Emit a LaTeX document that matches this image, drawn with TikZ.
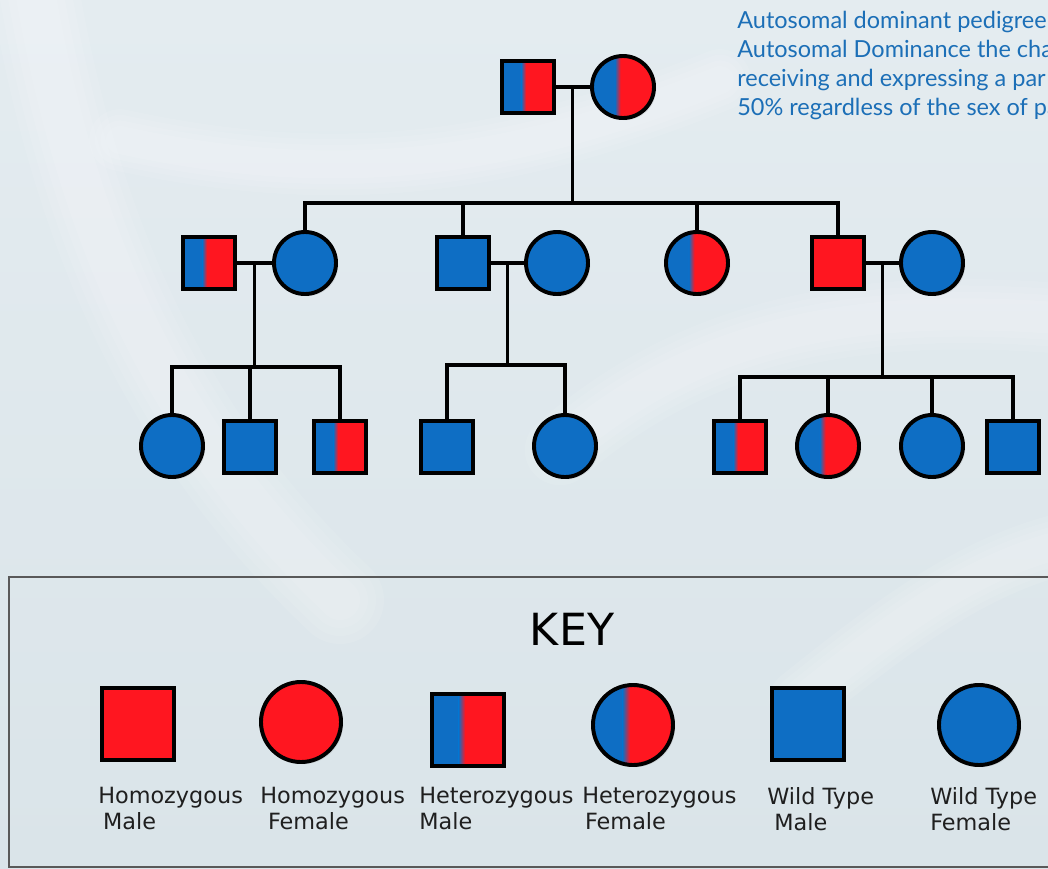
\documentclass[tikz,border=0pt]{standalone}
\usepackage{fontspec}
\setmainfont{DejaVu Sans}
\newfontfamily\notefont{Lato}
\usetikzlibrary{calc,shadows}

\definecolor{wtblue}{RGB}{14,110,196}
\definecolor{homred}{RGB}{255,22,32}
\definecolor{bgtop}{RGB}{228,236,240}
\definecolor{bgbot}{RGB}{218,228,233}
\definecolor{notecol}{RGB}{28,111,183}

\tikzset{
  person/.style={draw=black, line width=2.8pt, inner sep=0pt,
    drop shadow={shadow xshift=1.5pt, shadow yshift=-1.5pt, opacity=.2}},
  male/.style={person, rectangle, minimum size=1.28cm},
  female/.style={person, circle, minimum size=1.55cm},
  keymale/.style={male, minimum size=1.8cm},
  keyfemale/.style={female, minimum size=2cm},
  wt/.style={fill=wtblue},
  hom/.style={fill=homred},
  het/.style={path picture={
    \fill[wtblue] (path picture bounding box.south west) rectangle (path picture bounding box.north east);
    \fill[homred] ($(path picture bounding box.south west)!.46!(path picture bounding box.south east)$)
      rectangle (path picture bounding box.north east);
    \shade[left color=wtblue, right color=homred]
      ($(path picture bounding box.south west)!.37!(path picture bounding box.south east)$)
      rectangle ($(path picture bounding box.north west)!.46!(path picture bounding box.north east)$);
  }},
  kin/.style={draw=black, line width=2.2pt},
  strand/.style={white, opacity=.09, line cap=round},
  keylabel/.style={anchor=north west, inner sep=0pt, align=left,
    font=\fontsize{15.9}{18.5}\selectfont, text=black!88},
}

\begin{document}
\begin{tikzpicture}[x=0.025cm, y=-0.025cm]
  \useasboundingbox (0,0) rectangle (1048,869);
  \clip (0,0) rectangle (1048,869);

  %background, soft helix strands
  \shade[top color=bgtop, bottom color=bgbot] (0,0) rectangle (1048,869);
  \foreach \w in {2.2,1.8,1.4,1.0}{
    \draw[strand, line width=\w cm] (30,-40) .. controls (70,220) and (160,430) .. (340,600);
    \draw[strand, line width=.7*\w cm] (120,140) .. controls (350,190) and (520,160) .. (720,80);
    \draw[strand, line width=.8*\w cm] (560,450) .. controls (700,330) and (860,300) .. (1080,320);
    \draw[strand, line width=.7*\w cm] (800,700) .. controls (900,620) and (980,560) .. (1080,540);
  }

  %note
  \node[anchor=north west, inner sep=0pt, align=left, text=notecol,
    font=\notefont\fontsize{16.7}{20.6}\selectfont] (note) at (737,11)
    {Autosomal dominant pedigree\\Autosomal Dominance the cha\\receiving and expressing a par\\50\% regardless of the sex of pa};

  %generation I
  \node[male, het]    (I1) at (528,87) {};
  \node[female, het]  (I2) at (623,87) {};

  %generation II
  \node[male, het]    (II1) at (209,263) {};
  \node[female, wt]   (II2) at (305,263) {};
  \node[male, wt]     (II3) at (463,263) {};
  \node[female, wt]   (II4) at (557,263) {};
  \node[female, het]  (II5) at (697,263) {};
  \node[male, hom]    (II6) at (838,263) {};
  \node[female, wt]   (II7) at (932,263) {};

  %generation III
  \node[female, wt]   (III1) at (172,446) {};
  \node[male, wt]     (III2) at (250,447) {};
  \node[male, het]    (III3) at (340,447) {};
  \node[male, wt]     (III4) at (447,447) {};
  \node[female, wt]   (III5) at (565,446) {};
  \node[male, het]    (III6) at (740,447) {};
  \node[female, het]  (III7) at (828,446) {};
  \node[female, wt]   (III8) at (932,446) {};
  \node[male, wt]     (III9) at (1013,447) {};

  %couples and children
  \coordinate (bar1) at (0,203);
  \coordinate (bar2) at (0,367);
  \coordinate (bar3) at (0,365);
  \coordinate (bar4) at (0,377);
  \draw[kin] (I1) -- (I2);
  \coordinate (c1) at ($(I1.east)!.5!(I2.west)$);
  \draw[kin] (c1) -- (c1 |- bar1);
  \foreach \k in {II2,II3,II5,II6}
    \draw[kin] (c1 |- bar1) -| (\k.north);

  \draw[kin] (II1) -- (II2);
  \coordinate (c2) at ($(II1.east)!.5!(II2.west)$);
  \draw[kin] (c2) -- (c2 |- bar2);
  \foreach \k in {III1,III2,III3}
    \draw[kin] (c2 |- bar2) -| (\k.north);

  \draw[kin] (II3) -- (II4);
  \coordinate (c3) at ($(II3.east)!.5!(II4.west)$);
  \draw[kin] (c3) -- (c3 |- bar3);
  \foreach \k in {III4,III5}
    \draw[kin] (c3 |- bar3) -| (\k.north);

  \draw[kin] (II6) -- (II7);
  \coordinate (c4) at ($(II6.east)!.5!(II7.west)$);
  \draw[kin] (c4) -- (c4 |- bar4);
  \foreach \k in {III6,III7,III8,III9}
    \draw[kin] (c4 |- bar4) -| (\k.north);

  %key
  \draw[draw=black!65, line width=1.4pt] (9,577) rectangle (1070,867);
  \node[anchor=base, inner sep=0pt, font=\fontsize{31.5}{36}\selectfont] (keytitle) at (572,645) {KEY};
  \node[keymale, hom]     (k1) at (138,724) {};
  \node[keyfemale, hom]   (k2) at (301,722) {};
  \node[keymale, het]     (k3) at (468,730) {};
  \node[keyfemale, het]   (k4) at (633,725) {};
  \node[keymale, wt]      (k5) at (808,724) {};
  \node[keyfemale, wt]    (k6) at (979,725) {};
  \node[keylabel] (l1) at (98,787)  {Homozygous\\\hspace*{3.5pt}Male};
  \node[keylabel] (l2) at (260,787) {Homozygous\\\hspace*{5.5pt}Female};
  \node[keylabel] (l3) at (419,787) {Heterozygous\\Male};
  \node[keylabel] (l4) at (582,787) {Heterozygous\\\hspace*{2pt}Female};
  \node[keylabel] (l5) at (767,787) {Wild Type\\\hspace*{5pt}Male};
  \node[keylabel] (l6) at (930,787) {Wild Type\\Female};
\end{tikzpicture}
\end{document}
